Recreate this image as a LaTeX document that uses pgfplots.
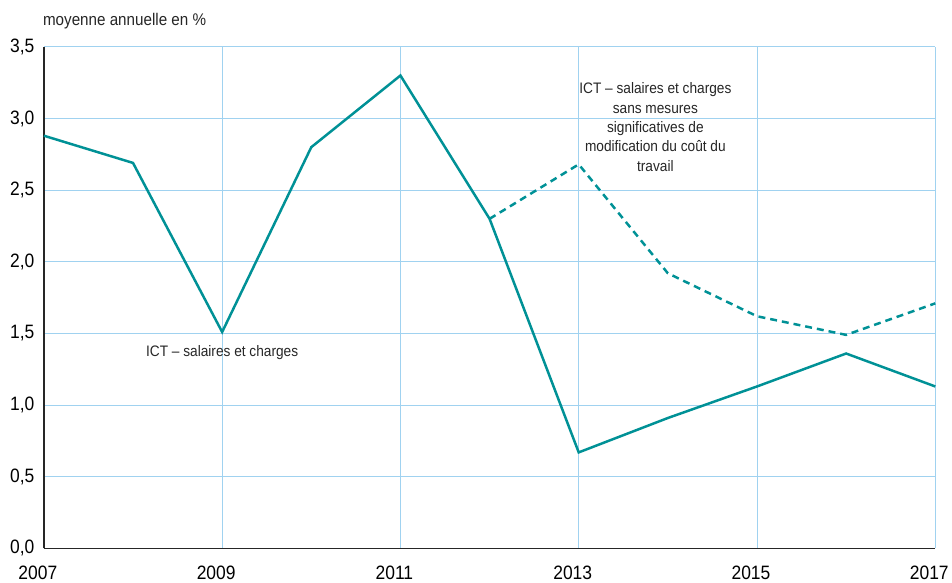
\documentclass[border=0pt]{standalone}
\usepackage{fontspec}
\setmainfont{Liberation Sans}[FakeStretch=0.9]
\usepackage{pgfplots}
\pgfplotsset{compat=1.18}
\definecolor{teal1}{RGB}{0,145,150}
\definecolor{gridblue}{RGB}{160,210,240}
\begin{document}
\begin{tikzpicture}
\begin{axis}[
  scale only axis,
  width=894bp, height=503bp,
  xmin=2007, xmax=2017, ymin=0, ymax=3.5,
  axis x line*=bottom, axis y line*=left,
  axis line style={line width=1.3pt, black!85},
  xtick={2007,2009,...,2017},
  ytick={0,0.5,...,3.5},
  major tick length=0pt,
  grid=major,
  major grid style={gridblue, line width=0.8pt},
  x tick label style={/pgf/number format/1000 sep=, font=\fontsize{19.5}{21}\selectfont, yshift=-14bp, xshift=-6bp},
  y tick label style={/pgf/number format/.cd, fixed, fixed zerofill, precision=1, use comma, /tikz/.cd, font=\fontsize{19.5}{21}\selectfont, xshift=-6bp},
  /pgf/number format/assume math mode=true,
  clip=false,
]
\addplot[teal1, line width=2.5pt] coordinates {
(2007,2.88) (2008,2.69) (2009,1.51) (2010,2.80) (2011,3.30) (2012,2.30) (2013,0.67) (2014,0.91) (2015,1.13) (2016,1.36) (2017,1.13)};
\addplot[teal1, line width=2.5pt, dash pattern=on 7pt off 5pt] coordinates {
(2012,2.30) (2013,2.68) (2014,1.92) (2015,1.62) (2016,1.49) (2017,1.71)};
\node[font=\fontsize{15.3}{19.5}\selectfont, color=black!85] at (axis cs:2009.0,1.37) {ICT – salaires et charges};
\node[font=\fontsize{15.3}{19.5}\selectfont, color=black!85, align=center] at (axis cs:2013.86,2.94) {ICT – salaires et charges\\sans mesures\\significatives de\\modification du coût du\\travail};
\end{axis}
\node[anchor=base west, font=\fontsize{17}{18}\selectfont, color=black!85, inner sep=0pt] at ([shift={(-1bp,21bp)}]current axis.north west) {moyenne annuelle en \%};
\path ([shift={(-44bp,-34bp)}]current axis.south west) rectangle ([shift={(14bp,47bp)}]current axis.north east);
\end{tikzpicture}
\end{document}
